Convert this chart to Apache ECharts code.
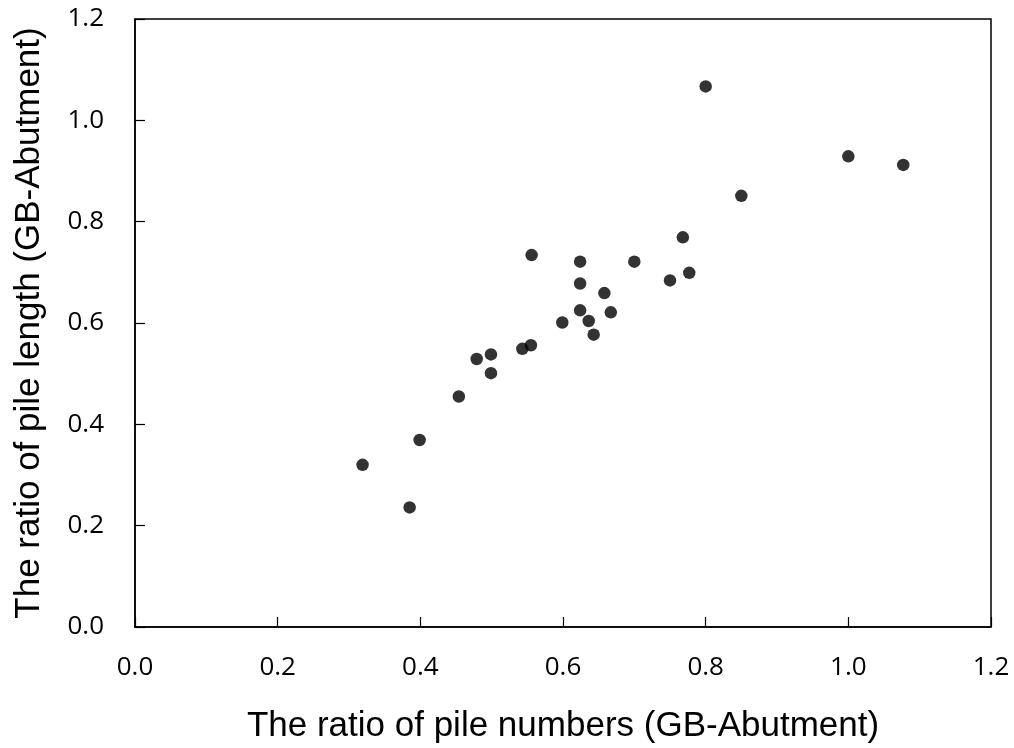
<!DOCTYPE html>
<html>
<head>
<meta charset="utf-8">
<script src="https://cdn.jsdelivr.net/npm/echarts@6/dist/echarts.min.js"></script>
<style>
  html, body { margin: 0; padding: 0; background: #fff; }
  #chart { width: 1014px; height: 748px; }
</style>
</head>
<body>
<div id="chart"></div>
<script>
// pile numbers ratio (x) and pile length ratio (y)
const pileNumberRatio = [0.319, 0.385, 0.399, 0.454, 0.479, 0.499, 0.499, 0.543, 0.555,
  0.556, 0.599, 0.624, 0.624, 0.624, 0.636, 0.643, 0.658, 0.667, 0.700, 0.750,
  0.768, 0.777, 0.800, 0.850, 1.000, 1.077]
const pileLengthRatio = [0.320, 0.236, 0.369, 0.455, 0.529, 0.538, 0.501, 0.549, 0.556,
  0.734, 0.601, 0.721, 0.678, 0.625, 0.604, 0.577, 0.659, 0.621, 0.721, 0.684,
  0.769, 0.699, 1.067, 0.851, 0.929, 0.912]
const xTitle = 'The ratio of pile numbers (GB-Abutment)'
const yTitle = 'The ratio of pile length (GB-Abutment)'

const points = pileNumberRatio.map((x, i) => [x, pileLengthRatio[i]])

const tickFont = { color: '#000', fontSize: 26, fontFamily: 'Open Sans' }
const axisCommon = {
  type: 'value',
  min: 0,
  max: 1.2,
  interval: 0.2,
  splitLine: { show: false },
  axisLine: { show: true, lineStyle: { color: '#000', width: 1.5 } },
  axisTick: { show: true, inside: true, length: 10, lineStyle: { color: '#000', width: 1.2 } },
  nameLocation: 'middle',
  nameTextStyle: { color: '#000', fontSize: 35, fontFamily: 'Liberation Sans' }
}

const myChart = echarts.init(document.getElementById('chart'))
myChart.setOption({
  animation: false,
  grid: {
    left: 135, right: 23, top: 19, bottom: 121,
    outerBoundsMode: 'none',
    containLabel: false,
    show: true, borderColor: '#000', borderWidth: 1.5
  },
  xAxis: Object.assign({}, axisCommon, {
    name: xTitle,
    nameGap: 82,
    axisLabel: Object.assign({}, tickFont, { margin: 28, formatter: v => v.toFixed(1) })
  }),
  yAxis: Object.assign({}, axisCommon, {
    name: yTitle,
    nameGap: 88,
    axisLabel: Object.assign({}, tickFont, { margin: 31, formatter: v => v.toFixed(1) })
  }),
  series: [{
    type: 'scatter',
    symbol: 'circle',
    symbolSize: 12.5,
    itemStyle: { color: '#000' },
    data: points
  }]
})
</script>
</body>
</html>
